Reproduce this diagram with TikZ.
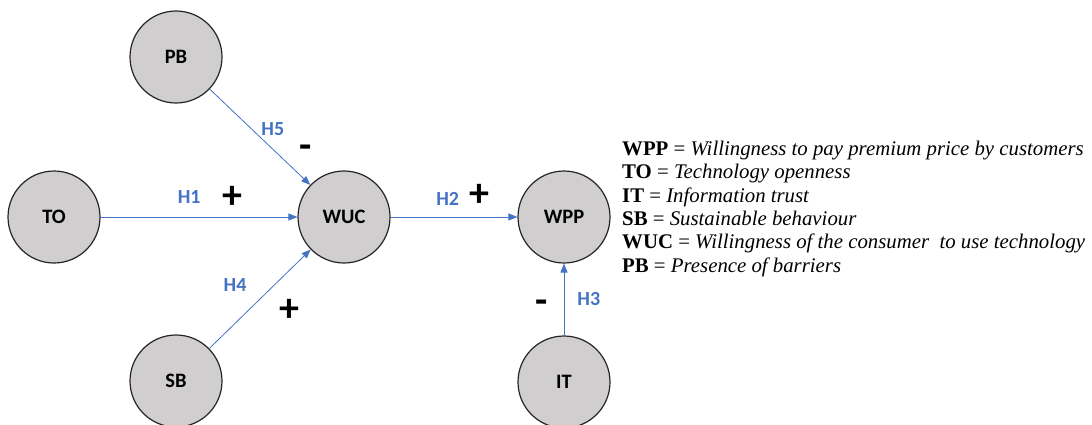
\documentclass[tikz,border=0pt]{standalone}
\usepackage{fontspec}
\setmainfont{Liberation Serif}[ItalicFont={Liberation Serif Italic},
                               BoldFont={Liberation Serif Bold}]
\newfontfamily\calib{Carlito}
\usetikzlibrary{arrows.meta,positioning}
\definecolor{NodeGray}{HTML}{D0CECE}
\definecolor{HypBlue}{HTML}{4472C4}

\begin{document}
\begin{tikzpicture}[
  x=1pt, y=-1pt,
  >={Triangle[length=9pt,width=7pt]},
  % construct circle
  construct/.style={circle, draw=black!85, fill=NodeGray, line width=1.2pt,
                    minimum size=92pt, inner sep=0pt,
                    font=\calib\fontsize{20.5}{20.5}\selectfont\bfseries},
  % hypothesis arrow
  hyp/.style={->, draw=HypBlue, line width=0.8pt},
  hlbl/.style={text=HypBlue, font=\calib\fontsize{20}{20}\selectfont\bfseries, inner sep=1pt},
  sign/.style={font=\calib\fontsize{40}{40}\selectfont\bfseries, inner sep=0pt},
]
\useasboundingbox (0,0) rectangle (1092,424);

%% -- Constructs --------------------------------------------------------
\node[construct] (PB)  at (176,57)  {PB};
\node[construct] (TO)  at (54,217)  {TO};
\node[construct] (WUC) at (344,217) {WUC};
\node[construct] (WPP) at (564,217) {WPP};
\node[construct] (SB)  at (176,381) {SB};
\node[construct] (IT)  at (564,382) {IT};

%% -- Hypotheses --------------------------------------------------------
\draw[hyp] (TO)  -- node[hlbl,pos=0.45,above=12pt]{H1}
                    node[sign,pos=0.67,above=8pt]{+} (WUC);
\draw[hyp] (WUC) -- node[hlbl,pos=0.45,above=10pt]{H2}
                    node[sign,pos=0.7,above=10pt]{+} (WPP);
\draw[hyp] (IT)  -- node[hlbl,pos=0.5,right=12pt]{H3}
                    node[sign,pos=0.5,left=16pt,yshift=-7pt]{-} (WPP);
\draw[hyp] (SB)  -- node[hlbl,pos=0.4,above left=16pt and 2pt]{H4}
                    node[sign,pos=0.5,below right=0pt and 19pt]{+} (WUC);
\draw[hyp] (PB)  -- node[hlbl,pos=0.5,above right=0pt and 0pt]{H5}
                    node[sign,pos=0.75,above right=2pt and 14pt]{-} (WUC);

%% -- Legend ------------------------------------------------------------
\node[anchor=north west, align=left, inner sep=0pt,
      font=\fontsize{20.8}{23.3}\selectfont] (key) at (622,141)
  {\textbf{WPP} = \textit{Willingness to pay premium price by customers}\\
   \textbf{TO} = \textit{Technology openness}\\
   \textbf{IT} = \textit{Information trust}\\
   \textbf{SB} = \textit{Sustainable behaviour}\\
   \textbf{WUC} = \textit{Willingness of the consumer\ \ to use technology}\\
   \textbf{PB} = \textit{Presence of barriers}};
\end{tikzpicture}
\end{document}
